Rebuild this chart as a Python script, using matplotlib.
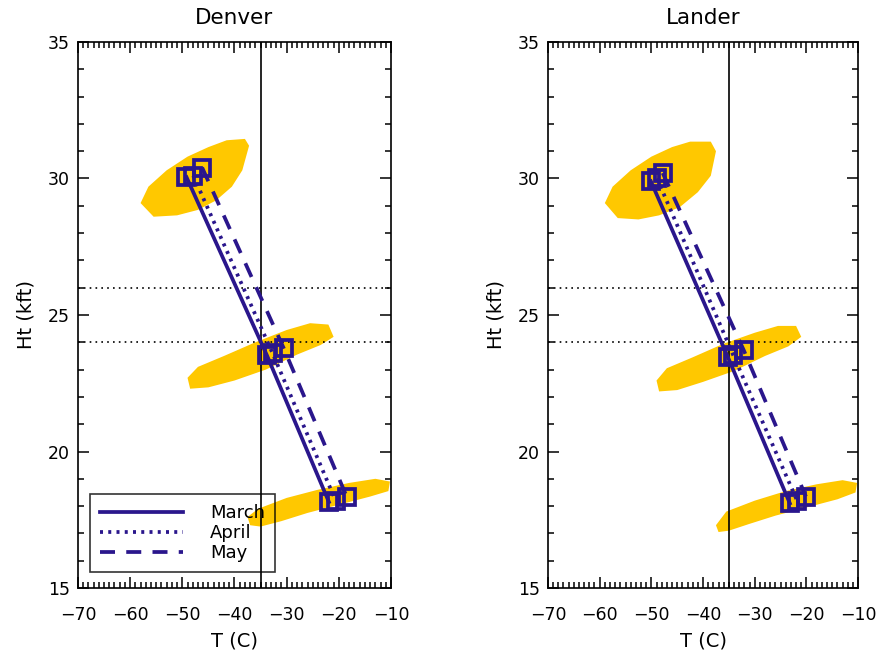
import matplotlib
matplotlib.use("Agg")
import matplotlib.pyplot as plt
from matplotlib.ticker import MultipleLocator

plt.rcParams['font.family'] = ['DejaVu Sans']

stations = ["Denver", "Lander"]
months = ["March", "April", "May"]

# Monthly mean (T, Ht) at three levels, per station
denver_T = {"March": [-49.2, -33.8, -21.9], "April": [-47.9, -32.7, -20.6], "May": [-46.2, -30.6, -18.5]}
denver_H = {"March": [30.05, 23.53, 18.15], "April": [30.1, 23.6, 18.2], "May": [30.4, 23.8, 18.35]}
lander_T = {"March": [-50.1, -35.2, -23.2], "April": [-48.9, -34.2, -21.8], "May": [-47.8, -32.1, -20.1]}
lander_H = {"March": [29.9, 23.46, 18.1], "April": [30.0, 23.55, 18.2], "May": [30.2, 23.7, 18.35]}

# Outlines of the scatter clouds (T, Ht)
denver_clouds = [
    ([-58.0, -56.5, -53.0, -49.0, -45.0, -41.5, -38.0, -37.2, -38.5, -40.5, -43.5, -47.0, -51.0, -55.5],
     [29.1, 29.7, 30.3, 30.8, 31.15, 31.4, 31.45, 31.2, 30.3, 29.7, 29.2, 28.85, 28.65, 28.6]),
    ([-49.0, -47.0, -42.0, -36.0, -30.0, -25.5, -22.0, -21.0, -23.5, -28.0, -34.0, -40.0, -45.0, -48.5],
     [22.7, 23.1, 23.5, 24.0, 24.45, 24.7, 24.65, 24.2, 23.9, 23.55, 23.0, 22.6, 22.35, 22.3]),
    ([-37.5, -35.5, -30.0, -24.0, -18.0, -13.0, -10.2, -10.5, -14.0, -20.0, -26.0, -31.0, -35.0, -37.0],
     [17.6, 17.9, 18.3, 18.6, 18.85, 19.0, 18.9, 18.55, 18.35, 18.05, 17.75, 17.45, 17.25, 17.3]),
]
lander_clouds = [
    ([-59.0, -57.5, -54.0, -50.0, -46.0, -42.5, -38.5, -37.5, -38.5, -41.0, -44.5, -48.5, -52.5, -56.5],
     [29.1, 29.7, 30.3, 30.8, 31.15, 31.35, 31.35, 31.0, 30.1, 29.5, 28.95, 28.65, 28.5, 28.55]),
    ([-49.0, -47.0, -42.0, -36.0, -30.0, -25.5, -22.0, -21.0, -23.5, -28.0, -34.0, -40.0, -45.0, -48.5],
     [22.6, 23.05, 23.45, 23.95, 24.35, 24.6, 24.6, 24.2, 23.85, 23.5, 22.95, 22.55, 22.25, 22.2]),
    ([-37.5, -35.5, -30.0, -24.0, -18.0, -13.0, -10.2, -10.5, -14.0, -20.0, -26.0, -31.0, -35.0, -37.0],
     [17.3, 17.8, 18.2, 18.55, 18.8, 18.95, 18.85, 18.5, 18.25, 17.95, 17.65, 17.35, 17.1, 17.05]),
]

styles = {"March": "-", "April": (0, (0.8, 1.4)), "May": (0, (4, 3))}
navy = "#2a168c"
gold = "#ffc800"

fig = plt.figure(figsize=(8.81, 6.54), dpi=100)
positions = [[0.0885, 0.1009, 0.3553, 0.8349], [0.622, 0.1009, 0.352, 0.8349]]
data = [(denver_T, denver_H, denver_clouds), (lander_T, lander_H, lander_clouds)]

for i, name in enumerate(stations):
    ax = fig.add_axes(positions[i])
    Ts, Hs, clouds = data[i]
    for cx, cy in clouds:
        ax.fill(cx, cy, color=gold, lw=0, zorder=1)
    ax.axvline(-35, color="black", lw=1.2, zorder=2)
    for h in [24, 26]:
        ax.axhline(h, color="black", lw=1.2, ls=(0, (1, 2.5)), zorder=2)
    for m in months:
        ax.plot(Ts[m], Hs[m], color=navy, lw=2.7, ls=styles[m], label=m, zorder=3)
        ax.plot(Ts[m], Hs[m], ls="none", marker="s", ms=11.5, mfc="none", mec=navy, mew=2.7, zorder=4)
    ax.set_xlim(-70, -10)
    ax.set_ylim(15, 35)
    ax.xaxis.set_major_locator(MultipleLocator(10))
    ax.xaxis.set_minor_locator(MultipleLocator(1))
    ax.yaxis.set_major_locator(MultipleLocator(5))
    ax.yaxis.set_minor_locator(MultipleLocator(1))
    ax.tick_params(which="both", direction="in", top=True, right=True, labelsize=12.5, width=1.1)
    ax.tick_params(axis="x", which="both", pad=13)
    ax.tick_params(axis="y", which="both", pad=6)
    ax.tick_params(which="major", length=8)
    ax.tick_params(which="minor", length=4)
    for s in ax.spines.values():
        s.set_linewidth(1.2)
    ax.set_title(name, fontsize=15.5, pad=13)
    ax.set_xlabel("T (C)", fontsize=14, labelpad=5)
    ax.set_ylabel("Ht (kft)", fontsize=14, labelpad=9)
    if i == 0:
        leg = ax.legend(loc="lower left", bbox_to_anchor=(0.038, 0.029), borderaxespad=0,
                        fontsize=13, handlelength=4.6, frameon=True, fancybox=False,
                        edgecolor="black", borderpad=0.55, labelspacing=0.12, handletextpad=1.5)
        leg.get_frame().set_facecolor("none")
        leg.get_frame().set_linewidth(1.2)

fig.savefig("out.png", dpi=100)
